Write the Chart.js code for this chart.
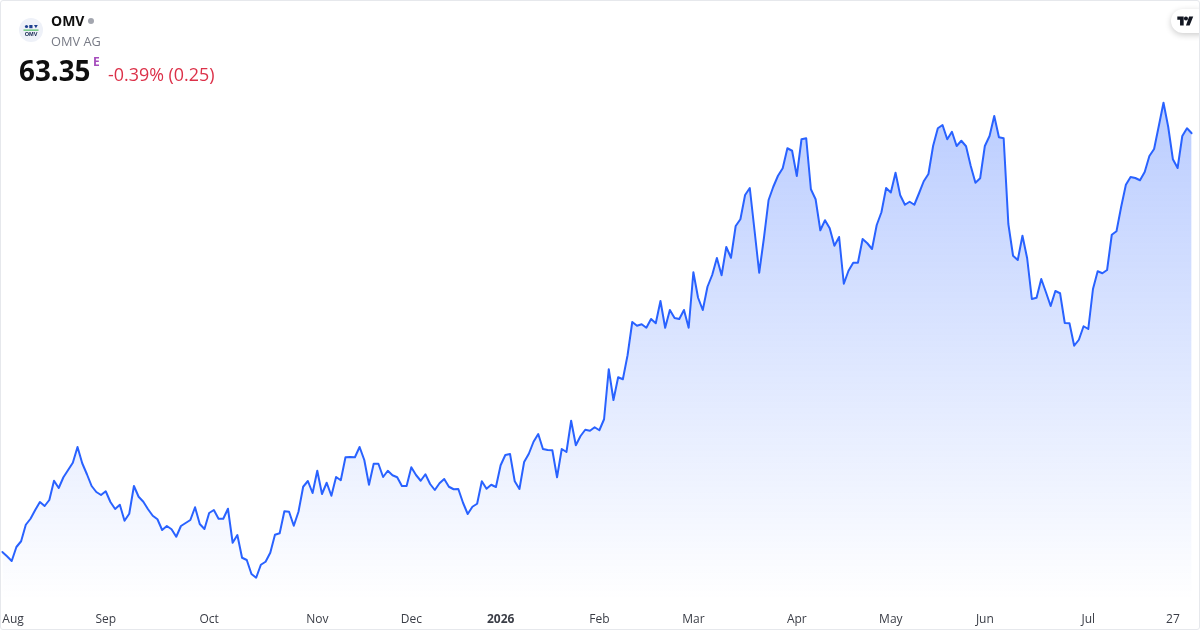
<!DOCTYPE html>
<html>
<head>
<meta charset="utf-8">
<title>OMV</title>
<script src="https://cdn.jsdelivr.net/npm/chart.js@4"></script>
<style>
html, body { margin: 0; padding: 0; background: #fff; }
body { width: 1200px; height: 630px; overflow: hidden; position: relative; font-family: "Open Sans", sans-serif; }
#wrap { position: absolute; left: 0; top: 0; width: 1200px; height: 630px; }
#frame { position: absolute; left: 0; top: 0; width: 1198px; height: 628px; border: 1px solid #e6e8ec; border-radius: 3px; pointer-events: none; }
.t { position: absolute; white-space: nowrap; line-height: 1; }
#logo { position: absolute; left: 19px; top: 18px; }
#symbol { left: 51px; top: 14px; font-size: 14px; font-weight: 700; color: #0f0f0f; }
#dot { position: absolute; left: 88px; top: 18px; width: 6px; height: 6px; border-radius: 50%; background: #a3a6af; }
#name { left: 51px; top: 35px; font-size: 12.800px; color: #787b86; }
#price { left: 19px; top: 57px; font-size: 27.8px; font-weight: 700; color: #0f0f0f; }
#flag { left: 93px; top: 56px; font-size: 12px; font-weight: 700; color: #a64dbd; }
#change { left: 108px; top: 66px; font-size: 17.9px; color: #dc3149; }
#tv { position: absolute; left: 1171px; top: 9px; width: 40px; height: 24px; border-radius: 12px; background: #fff; box-shadow: 0 2px 6px rgba(0,0,0,.2); }
#tv svg { position: absolute; left: 6px; top: 7px; }
</style>
</head>
<body>
<div id="wrap"><canvas id="myChart"></canvas></div>
<div id="tv"><svg width="17" height="10" viewBox="0 0 36 22"><path fill="#131722" d="M14 1H0v7h6v13h8V1Zm13 20h-8l7-20h9l-8 20Zm-8-11a4.500 4.500 0 1 0 0-9 4.500 4.500 0 0 0 0 9Z"/></svg></div>
<div id="frame"></div>
<svg id="logo" width="24" height="24" viewBox="0 0 24 24">
  <circle cx="12" cy="12" r="12" fill="#eef1f8"/>
  <circle cx="7.500" cy="8.500" r="1.600" fill="#1d3f8f"/>
  <rect x="10.300" y="7" width="3.200" height="3.200" fill="#1d3f8f"/>
  <path d="M15 7h3.800l-1.900 3.200Z" fill="#1d3f8f"/>
  <rect x="4.500" y="11.600" width="15" height="1" fill="#2fb344"/>
  <text x="12" y="18.200" text-anchor="middle" font-family="Liberation Sans" font-size="5.600" font-weight="700" fill="#13264f">OMV</text>
</svg>
<div class="t" id="symbol">OMV</div>
<div id="dot"></div>
<div class="t" id="name">OMV AG</div>
<div class="t" id="price">63.35</div>
<div class="t" id="flag">E</div>
<div class="t" id="change">-0.39% (0.25)</div>
<script>
var closes = [
  46.60,46.43,46.24,46.80,47.03,47.69,47.93,48.28,48.60,48.44,48.68,49.45,49.16,49.59,49.88,50.17,50.80,50.15,49.71,49.24,
  49.00,48.88,49.03,48.60,48.32,48.49,47.85,48.13,49.24,48.81,48.61,48.31,48.05,47.91,47.48,47.64,47.51,47.21,47.64,47.76,
  47.88,48.39,47.72,47.52,48.16,48.28,47.93,47.93,48.33,46.97,47.28,46.37,46.28,45.72,45.57,46.09,46.21,46.57,47.29,47.35,
  48.23,48.21,47.65,48.21,49.21,49.44,48.96,49.85,48.92,49.37,48.85,49.60,49.47,50.39,50.40,50.39,50.80,50.28,49.29,50.13,
  50.13,49.60,49.85,49.67,49.59,49.24,49.24,49.99,49.68,49.45,49.71,49.32,49.08,49.35,49.52,49.21,49.11,49.12,48.57,48.12,
  48.41,48.53,49.43,49.13,49.29,49.20,50.07,50.48,50.52,49.43,49.12,50.20,50.53,51.01,51.32,50.72,50.68,50.67,49.59,50.72,
  50.60,51.85,50.87,51.24,51.49,51.45,51.59,51.47,51.91,53.91,52.68,53.59,53.51,54.47,55.80,55.65,55.71,55.57,55.92,55.75,
  56.64,55.57,56.28,55.96,55.92,56.28,55.57,57.79,56.77,56.28,57.21,57.68,58.36,57.67,58.80,58.37,59.64,59.91,60.88,61.16,
  59.48,57.77,59.15,60.68,61.21,61.65,61.95,62.75,62.65,61.64,63.11,63.15,61.11,60.71,59.47,59.87,59.55,58.85,59.20,57.33,
  57.85,58.17,58.17,59.12,58.95,58.72,59.68,60.19,61.16,60.98,61.77,60.87,60.49,60.61,60.49,60.95,61.43,61.72,62.85,63.55,
  63.68,63.11,63.41,62.84,63.05,62.83,62.04,61.37,61.55,62.84,63.24,64.04,63.19,63.15,59.72,58.45,58.28,59.25,58.35,56.72,
  56.77,57.52,56.99,56.44,57.04,56.95,55.76,55.75,54.85,55.09,55.63,55.52,57.12,57.83,57.75,57.88,59.29,59.43,60.41,61.29,
  61.60,61.56,61.47,61.80,62.44,62.72,63.64,64.57,63.61,62.31,61.96,63.24,63.55,63.35
];
var tickLabels = ['Aug','Sep','Oct','Nov','Dec','2026','Feb','Mar','Apr','May','Jun','Jul','27'];
var tickIndex = [0,22,44,67,87,106,127,147,169,189,209,231,249];

// one category per session, only month starts carry a label
var categories = closes.map(function (v, i) {
  var k = tickIndex.indexOf(i);
  return k < 0 ? '' : tickLabels[k];
});

function areaFill(context) {
  var area = context.chart.chartArea;
  if (!area) return 'rgba(41,98,255,0.2)';
  var g = context.chart.ctx.createLinearGradient(0, 100, 0, area.bottom);
  g.addColorStop(0, 'rgba(41,98,255,0.32)');
  g.addColorStop(1, 'rgba(41,98,255,0)');
  return g;
}

var ctx = document.getElementById('myChart').getContext('2d');

var myChart = new Chart(ctx, {
  type: 'line',
  data: {
    labels: categories,
    datasets: [{
      label: 'OMV',
      data: closes,
      borderColor: '#2962ff',
      borderWidth: 2,
      borderJoinStyle: 'round',
      borderCapStyle: 'round',
      backgroundColor: areaFill,
      fill: 'start',
      pointRadius: 0,
      tension: 0
    }]
  },
  options: {
    responsive: true,
    maintainAspectRatio: false,
    animation: false,
    layout: { padding: { left: 2.3, right: 8.3, top: 0, bottom: 0 } },
    plugins: { legend: { display: false }, tooltip: { enabled: false } },
    scales: {
      x: {
        grid: { display: false, drawTicks: false },
        border: { display: false },
        afterFit: function (scale) {
          scale.height = 30;
          scale.paddingLeft = 0;
          scale.paddingRight = 0;
        },
        ticks: {
          autoSkip: false,
          maxRotation: 0,
          align: 'inner',
          padding: 12,
          color: '#3a3d46',
          font: function (c) {
            return {
              family: '"Open Sans", sans-serif',
              size: 12,
              weight: c.tick && c.tick.label === '2026' ? 'bold' : 'normal'
            };
          }
        }
      },
      y: {
        display: false,
        min: 44.68,
        max: 68.68
      }
    }
  }
});
</script>
</body>
</html>
